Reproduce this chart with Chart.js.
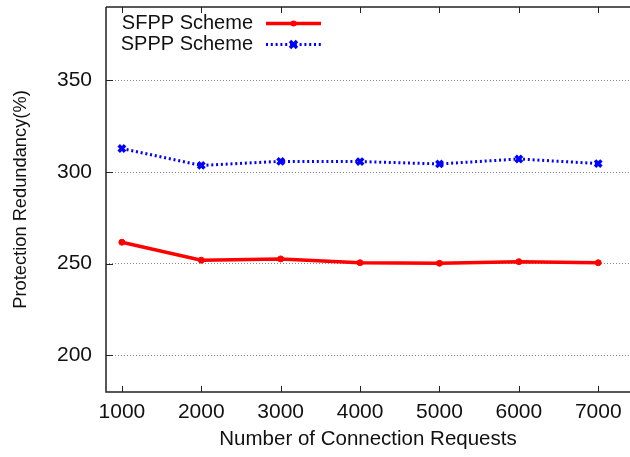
<!DOCTYPE html>
<html>
<head>
<meta charset="utf-8">
<script src="https://cdn.jsdelivr.net/npm/chart.js@4.4.0/dist/chart.umd.min.js"></script>
<style>
  html, body { margin: 0; padding: 0; background: #fff; }
  #wrap { width: 630px; height: 457px; }
</style>
</head>
<body>
<div id="wrap"><canvas id="chart" width="630" height="457"></canvas></div>
<script>
// data
const requests = [1000, 2000, 3000, 4000, 5000, 6000, 7000];
const sfpp = [261.7, 251.9, 252.6, 250.5, 250.2, 251.1, 250.5];
const sppp = [312.8, 303.6, 305.8, 305.7, 304.4, 307.1, 304.6];
const yTicks = [200, 250, 300, 350];

const FONT = 'Liberation Sans, Arial, Helvetica, sans-serif';

// gnuplot style frame: axis lines, inward ticks, legend at top left
const framePlugin = {
  id: 'frame',
  afterDraw(chart) {
    const ctx = chart.ctx;
    const a = chart.chartArea;
    const xs = chart.scales.x, ys = chart.scales.y;
    ctx.save();
    ctx.strokeStyle = '#222';
    ctx.lineWidth = 1.5;
    ctx.beginPath();
    ctx.moveTo(a.left, a.top);
    ctx.lineTo(a.right, a.top);
    ctx.moveTo(a.left, a.top);
    ctx.lineTo(a.left, a.bottom);
    ctx.lineTo(a.right, a.bottom);
    ctx.stroke();
    ctx.lineWidth = 1;
    ctx.beginPath();
    requests.forEach(v => {
      const px = Math.round(xs.getPixelForValue(v)) + 0.5;
      ctx.moveTo(px, a.bottom); ctx.lineTo(px, a.bottom - 6);
      ctx.moveTo(px, a.top); ctx.lineTo(px, a.top + 6);
    });
    yTicks.forEach(v => {
      const py = Math.round(ys.getPixelForValue(v)) + 0.5;
      ctx.moveTo(a.left, py); ctx.lineTo(a.left + 7, py);
    });
    ctx.stroke();

    // legend: label text, then line sample on the right
    ctx.font = '20px ' + FONT;
    ctx.textAlign = 'right';
    ctx.textBaseline = 'middle';
    chart.data.datasets.forEach((ds, i) => {
      const y = a.top + 16.5 + i * 21;
      const textRight = a.left + 147;
      ctx.fillStyle = '#111';
      ctx.fillText(ds.label, textRight, y);
      const x0 = textRight + 13, x1 = textRight + 68;
      ctx.strokeStyle = ds.borderColor;
      ctx.lineWidth = ds.borderWidth;
      ctx.setLineDash(ds.borderDash || []);
      ctx.beginPath();
      ctx.moveTo(x0, y); ctx.lineTo(x1, y);
      ctx.stroke();
      ctx.setLineDash([]);
      const mid = (x0 + x1) / 2;
      ctx.fillStyle = ds.pointBackgroundColor;
      if (ds.pointStyle === 'crossRot') {
        ctx.lineWidth = 3.5;
        ctx.beginPath();
        ctx.moveTo(mid - 3.5, y - 3.5); ctx.lineTo(mid + 3.5, y + 3.5);
        ctx.moveTo(mid - 3.5, y + 3.5); ctx.lineTo(mid + 3.5, y - 3.5);
        ctx.stroke();
      } else {
        ctx.beginPath();
        ctx.arc(mid, y, 3, 0, Math.PI * 2);
        ctx.fill();
      }
    });
    ctx.restore();
  }
};

const ctx = document.getElementById('chart').getContext('2d');

new Chart(ctx, {
  type: 'line',
  data: {
    datasets: [
      {
        label: 'SFPP Scheme',
        data: requests.map((r, i) => ({ x: r, y: sfpp[i] })),
        borderColor: '#ff0000',
        backgroundColor: '#ff0000',
        pointBackgroundColor: '#ff0000',
        pointBorderColor: '#ff0000',
        borderWidth: 3.5,
        pointStyle: 'circle',
        pointRadius: 3,
        pointBorderWidth: 1,
        tension: 0
      },
      {
        label: 'SPPP Scheme',
        data: requests.map((r, i) => ({ x: r, y: sppp[i] })),
        borderColor: '#0000ff',
        backgroundColor: '#0000ff',
        pointBackgroundColor: '#0000ff',
        pointBorderColor: '#0000ff',
        borderWidth: 3,
        borderDash: [2, 2.8],
        pointStyle: 'crossRot',
        pointRadius: 4.5,
        pointBorderWidth: 3.5,
        tension: 0
      }
    ]
  },
  options: {
    responsive: false,
    animation: false,
    layout: { autoPadding: false, padding: { top: 7, right: 0, left: 0, bottom: 0 } },
    plugins: {
      legend: { display: false },
      tooltip: { enabled: false }
    },
    scales: {
      x: {
        type: 'linear',
        min: 800,
        max: 7400,
        afterBuildTicks: s => { s.ticks = requests.map(v => ({ value: v })); },
        afterFit: s => {
          s.height = 65;
          s.paddingLeft = 0; s.paddingRight = 0;
        },
        grid: { display: false, drawTicks: false },
        border: { display: false },
        ticks: {
          color: '#111',
          font: { family: FONT, size: 21 },
          padding: 8,
          maxRotation: 0,
          autoSkip: false,
          callback: v => String(v)
        },
        title: {
          display: true,
          text: 'Number of Connection Requests',
          color: '#111',
          font: { family: FONT, size: 20.5 },
          padding: { top: 0, bottom: 5 }
        }
      },
      y: {
        min: 180,
        max: 390,
        afterBuildTicks: s => { s.ticks = yTicks.map(v => ({ value: v })); },
        afterFit: s => {
          s.width = 106;
          s.paddingTop = 0; s.paddingBottom = 0;
        },
        grid: {
          color: '#888',
          lineWidth: 1,
          drawTicks: false,
          drawOnChartArea: true
        },
        border: { display: false, dash: [1, 2] },
        ticks: {
          color: '#111',
          font: { family: FONT, size: 21 },
          padding: 14
        },
        title: {
          display: true,
          text: 'Protection Redundancy(%)',
          color: '#111',
          font: { family: FONT, size: 18.3 },
          padding: { top: 10, bottom: 0 }
        }
      }
    }
  },
  plugins: [framePlugin]
});
</script>
</body>
</html>
